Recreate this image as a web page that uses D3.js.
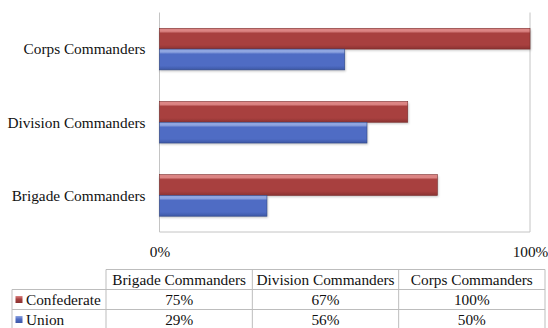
<!DOCTYPE html>
<html>
<head>
<meta charset="utf-8">
<script src="https://cdn.jsdelivr.net/npm/d3@7"></script>
<style>
  html, body { margin: 0; padding: 0; background: #fff; }
  svg { display: block; }
</style>
</head>
<body>
<svg id="chart" width="548" height="328"></svg>
<script>
// Share of commanders by rank
const categories = ["Brigade Commanders", "Division Commanders", "Corps Commanders"];
const seriesNames = ["Confederate", "Union"];
const confederate = [0.75, 0.67, 1.00];
const union = [0.29, 0.56, 0.50];
const axisTicks = [0, 1];

const FONT = "Liberation Serif";
const FONT_SIZE = 15.3;
const seriesValues = { Confederate: confederate, Union: union };
const palette = {
  Confederate: { top: "#dc8584", mid: "#a8403f", bot: "#8a3332", edge: "#7a2c2b" },
  Union:       { top: "#8fa5e0", mid: "#4f6cc4", bot: "#3d58a6", edge: "#2f4788" }
};

const svg = d3.select("#chart").attr("font-family", FONT);
const defs = svg.append("defs");

// bevelled bar fills
seriesNames.forEach(s => {
  const c = palette[s];
  const g = defs.append("linearGradient")
    .attr("id", "grad-" + s).attr("x1", 0).attr("y1", 0).attr("x2", 0).attr("y2", 1);
  g.append("stop").attr("offset", "0%").attr("stop-color", c.top);
  g.append("stop").attr("offset", "14%").attr("stop-color", c.top);
  g.append("stop").attr("offset", "24%").attr("stop-color", c.mid);
  g.append("stop").attr("offset", "80%").attr("stop-color", c.mid);
  g.append("stop").attr("offset", "100%").attr("stop-color", c.bot);
  const lg = defs.append("linearGradient")
    .attr("id", "leg-" + s).attr("x1", 0).attr("y1", 0).attr("x2", 0).attr("y2", 1);
  lg.append("stop").attr("offset", "0%").attr("stop-color", c.top);
  lg.append("stop").attr("offset", "45%").attr("stop-color", c.mid);
  lg.append("stop").attr("offset", "100%").attr("stop-color", c.bot);
});
const blur = defs.append("filter").attr("id", "shadow")
  .attr("x", "-5%").attr("y", "-20%").attr("width", "110%").attr("height", "160%");
blur.append("feGaussianBlur").attr("stdDeviation", 1.2);

const plot = { left: 159.5, right: 530, top: 12.5, bottom: 232 };

const x = d3.scaleLinear().domain([0, 1]).range([plot.left, plot.right]);
const y = d3.scaleBand()
  .domain(categories.slice().reverse())
  .range([plot.top, plot.bottom])
  .padding(0);
const ySub = d3.scaleBand()
  .domain(seriesNames)
  .range([0, y.bandwidth()])
  .paddingInner(0)
  .paddingOuter(0.76);

const gridColor = "#c4c4c4";

// frame: 0% and 100% verticals plus baseline
svg.append("g").selectAll("line.v")
  .data(axisTicks)
  .join("line")
  .attr("x1", d => x(d)).attr("x2", d => x(d))
  .attr("y1", plot.top).attr("y2", plot.bottom)
  .attr("stroke", gridColor).attr("stroke-width", 1);
svg.append("line")
  .attr("x1", plot.left).attr("x2", plot.right)
  .attr("y1", plot.bottom).attr("y2", plot.bottom)
  .attr("stroke", gridColor).attr("stroke-width", 1);

// bars
const rows = categories.map((c, i) => ({
  category: c,
  values: seriesNames.map(s => ({ series: s, value: seriesValues[s][i] }))
}));

const groups = svg.append("g").selectAll("g.cat")
  .data(rows)
  .join("g")
  .attr("transform", d => `translate(0,${y(d.category)})`);

groups.selectAll("rect.shadow")
  .data(d => d.values)
  .join("rect")
  .attr("x", x(0))
  .attr("y", d => ySub(d.series) + 1.5)
  .attr("width", d => x(d.value) - x(0) + 1)
  .attr("height", ySub.bandwidth())
  .attr("fill", "rgba(0,0,0,0.22)")
  .attr("filter", "url(#shadow)");

groups.selectAll("rect.bar")
  .data(d => d.values)
  .join("rect")
  .attr("x", x(0))
  .attr("y", d => ySub(d.series))
  .attr("width", d => x(d.value) - x(0))
  .attr("height", ySub.bandwidth())
  .attr("fill", d => `url(#grad-${d.series})`)
  .attr("stroke", d => palette[d.series].edge)
  .attr("stroke-width", 0.6);

// category labels
svg.append("g").selectAll("text")
  .data(categories)
  .join("text")
  .attr("x", plot.left - 14)
  .attr("y", d => y(d) + y.bandwidth() / 2)
  .attr("dy", "0.35em")
  .attr("text-anchor", "end")
  .attr("font-family", FONT)
  .attr("font-size", FONT_SIZE)
  .attr("fill", "#111")
  .text(d => d);

// value axis
const xAxis = d3.axisBottom(x)
  .tickValues(axisTicks)
  .tickFormat(d3.format(".0%"))
  .tickSize(0)
  .tickPadding(14);
const axisG = svg.append("g")
  .attr("transform", `translate(0,${plot.bottom})`)
  .call(xAxis)
  .attr("font-family", FONT);
axisG.select(".domain").remove();
axisG.selectAll("text")
  .attr("font-family", FONT)
  .attr("font-size", FONT_SIZE)
  .attr("fill", "#111");

// data table
const table = { left: 12, keyRight: 106, right: 545, top: 269.5, rowH: 20 };
const colW = (table.right - table.keyRight) / categories.length;
const colX = i => table.keyRight + i * colW;
const lineColor = "#bdbdbd";
const tg = svg.append("g").attr("font-family", FONT);

// grid lines of the table
tg.append("line")
  .attr("x1", table.keyRight).attr("x2", table.right)
  .attr("y1", table.top).attr("y2", table.top)
  .attr("stroke", lineColor);
[1, 2, 3].forEach(r => {
  tg.append("line")
    .attr("x1", table.left).attr("x2", table.right)
    .attr("y1", table.top + r * table.rowH).attr("y2", table.top + r * table.rowH)
    .attr("stroke", lineColor);
});
tg.append("line")
  .attr("x1", table.left).attr("x2", table.left)
  .attr("y1", table.top + table.rowH).attr("y2", table.top + 3 * table.rowH)
  .attr("stroke", lineColor);
d3.range(categories.length + 1).forEach(i => {
  tg.append("line")
    .attr("x1", colX(i)).attr("x2", colX(i))
    .attr("y1", table.top).attr("y2", table.top + 3 * table.rowH)
    .attr("stroke", lineColor);
});

// header text
tg.selectAll("text.head")
  .data(categories)
  .join("text")
  .attr("x", (d, i) => colX(i) + colW / 2)
  .attr("y", table.top + table.rowH / 2)
  .attr("dy", "0.35em")
  .attr("text-anchor", "middle")
  .attr("font-family", FONT)
  .attr("font-size", FONT_SIZE)
  .attr("fill", "#111")
  .text(d => d);

// series rows
const fmt = d3.format(".0%");
seriesNames.forEach((s, r) => {
  const rowMid = table.top + (r + 1.5) * table.rowH;
  tg.append("rect")
    .attr("x", table.left + 3.5).attr("y", rowMid - 3.5)
    .attr("width", 7).attr("height", 7)
    .attr("fill", `url(#leg-${s})`);
  tg.append("text")
    .attr("x", table.left + 14)
    .attr("y", rowMid)
    .attr("dy", "0.35em")
    .attr("font-family", FONT)
    .attr("font-size", FONT_SIZE)
    .attr("fill", "#111")
    .text(s);
  tg.selectAll("text.v" + r)
    .data(seriesValues[s])
    .join("text")
    .attr("x", (d, i) => colX(i) + colW / 2)
    .attr("y", rowMid)
    .attr("dy", "0.35em")
    .attr("text-anchor", "middle")
    .attr("font-family", FONT)
    .attr("font-size", FONT_SIZE)
    .attr("fill", "#111")
    .text(d => fmt(d));
});
</script>
</body>
</html>
